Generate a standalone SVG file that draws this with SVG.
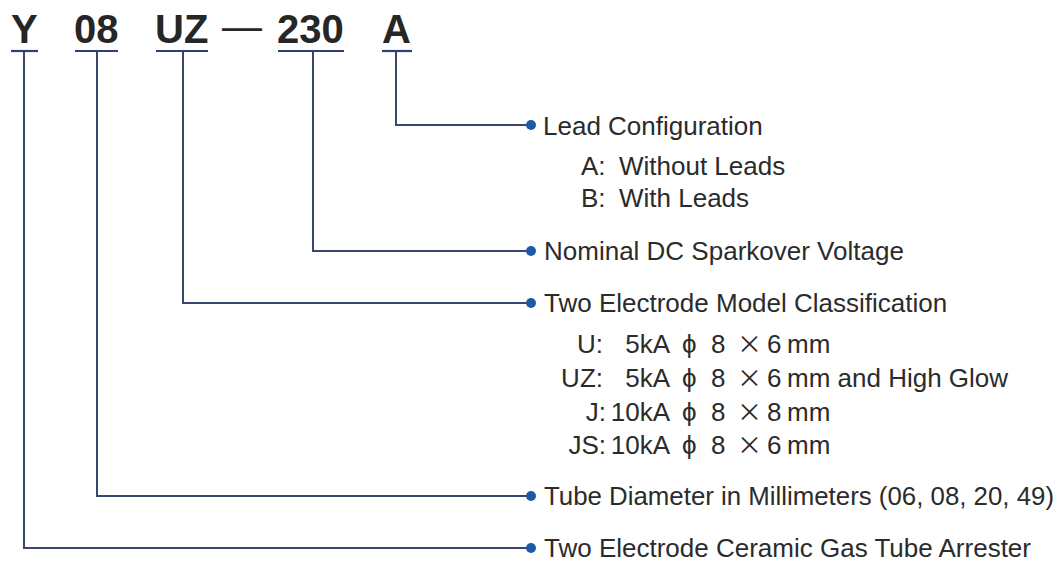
<svg xmlns="http://www.w3.org/2000/svg" width="1062" height="562" viewBox="0 0 1062 562">
<style>
.code{font-family:"Liberation Sans",Arial,sans-serif;font-weight:bold;font-size:40px;fill:#262626}
.dash{font-family:"Liberation Sans",Arial,sans-serif;font-size:40px;fill:#262626}
.t{font-family:"Liberation Sans",Arial,sans-serif;font-size:26px;fill:#2b2b2b}
.x{font-family:"Noto Sans CJK JP","Liberation Sans",sans-serif;font-size:25px}
.ul{stroke:#2d3f78;stroke-width:2.2;fill:none}
.ln{stroke:#3a4670;stroke-width:2;fill:none}
.dot{fill:#1d5aa6}
</style>
<rect width="1062" height="562" fill="#ffffff"/>
<g id="code">
<text class="code" x="11" y="43">Y</text>
<text class="code" x="74" y="43">08</text>
<text class="code" x="155" y="43">UZ</text>
<text class="dash" x="222" y="40">—</text>
<text class="code" x="277" y="43">230</text>
<text class="code" x="382" y="43">A</text>
<line class="ul" x1="11" y1="51" x2="38" y2="51"/>
<line class="ul" x1="75" y1="51" x2="118" y2="51"/>
<line class="ul" x1="156" y1="51" x2="208" y2="51"/>
<line class="ul" x1="278" y1="51" x2="344" y2="51"/>
<line class="ul" x1="382" y1="51" x2="412" y2="51"/>
</g>
<g id="connectors">
<polyline class="ln" points="396,52 396,125 531,125"/>
<polyline class="ln" points="313,52 313,251 531,251"/>
<polyline class="ln" points="183,52 183,303 531,303"/>
<polyline class="ln" points="97,52 97,496 531,496"/>
<polyline class="ln" points="24,52 24,548 531,548"/>
<circle class="dot" cx="531" cy="125" r="5"/>
<circle class="dot" cx="531" cy="251" r="5"/>
<circle class="dot" cx="531" cy="303" r="5"/>
<circle class="dot" cx="531" cy="496" r="5"/>
<circle class="dot" cx="531" cy="548" r="5"/>
</g>
<g id="lead">
<text class="t" x="543" y="135">Lead Configuration</text>
<text class="t" y="175"><tspan x="581">A:</tspan><tspan x="619">Without Leads</tspan></text>
<text class="t" y="207"><tspan x="581">B:</tspan><tspan x="619">With Leads</tspan></text>
</g>
<g id="voltage">
<text class="t" x="544" y="260">Nominal DC Sparkover Voltage</text>
</g>
<g id="model">
<text class="t" x="544" y="312">Two Electrode Model Classification</text>
<text class="t" y="353"><tspan x="603" text-anchor="end">U:</tspan><tspan x="670" text-anchor="end">5kA</tspan><tspan x="682">ϕ</tspan><tspan x="711">8</tspan><tspan class="x" x="737">×</tspan><tspan x="767">6</tspan><tspan x="787">mm</tspan></text>
<text class="t" y="387"><tspan x="603" text-anchor="end">UZ:</tspan><tspan x="670" text-anchor="end">5kA</tspan><tspan x="682">ϕ</tspan><tspan x="711">8</tspan><tspan class="x" x="737">×</tspan><tspan x="767">6</tspan><tspan x="787">mm and High Glow</tspan></text>
<text class="t" y="421"><tspan x="606" text-anchor="end">J:</tspan><tspan x="670" text-anchor="end">10kA</tspan><tspan x="682">ϕ</tspan><tspan x="711">8</tspan><tspan class="x" x="737">×</tspan><tspan x="767">8</tspan><tspan x="787">mm</tspan></text>
<text class="t" y="454"><tspan x="606" text-anchor="end">JS:</tspan><tspan x="670" text-anchor="end">10kA</tspan><tspan x="682">ϕ</tspan><tspan x="711">8</tspan><tspan class="x" x="737">×</tspan><tspan x="767">6</tspan><tspan x="787">mm</tspan></text>
</g>
<g id="diameter">
<text class="t" x="544" y="505" textLength="510" lengthAdjust="spacingAndGlyphs">Tube Diameter in Millimeters (06, 08, 20, 49)</text>
</g>
<g id="arrester">
<text class="t" x="544" y="557">Two Electrode Ceramic Gas Tube Arrester</text>
</g>
</svg>
